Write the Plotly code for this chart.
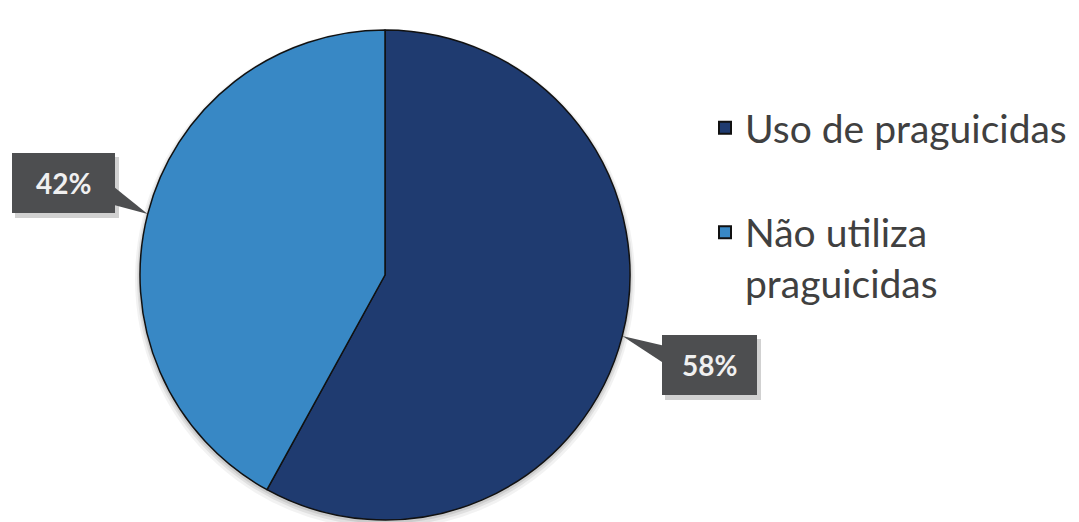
import math
import plotly.graph_objects as go

# Survey result: share of respondents using pesticides
labels = ["Uso de praguicidas", "Não utiliza<br>praguicidas"]
values = [58, 42]
colors = ["#1f3b70", "#3888c5"]

W, H = 1079, 522

# Pie geometry in pixels (centre and radius)
CX, CY, R = 385, 275, 245

# Callout boxes: centre, size and where the pointer leaves the box edge (fraction of height)
callouts = [
    dict(cx=709.5, cy=365, w=95, h=60, base=(0.17, 0.45)),
    dict(cx=63.5, cy=183, w=103, h=60, base=(0.58, 0.87)),
]


def px(x):
    return x / W


def py(y):
    return 1 - y / H


# single-line legend entries get a blank second line so the items are spaced apart
legend_text = [l if "<br>" in l else l + "<br> " for l in labels]

fig = go.Figure()
fig.add_trace(go.Pie(
    labels=legend_text,
    values=values,
    sort=False,
    direction="clockwise",
    rotation=0,
    marker=dict(colors=colors, line=dict(color="#111111", width=1.5)),
    textinfo="none",
    hoverinfo="percent",
    domain=dict(x=[px(CX - R), px(CX + R)], y=[py(CY + R), py(CY - R)]),
))

shapes = []
# faint shadow around the pie
for grow, dy, a in [(5, 4, 0.05), (3, 3, 0.07), (1.5, 2, 0.09)]:
    shapes.append(dict(type="circle", xref="paper", yref="paper", layer="below",
                       x0=px(CX - R - grow), x1=px(CX + R + grow),
                       y0=py(CY + R + grow + dy), y1=py(CY - R - grow + dy),
                       fillcolor=f"rgba(0,0,0,{a})", line=dict(width=0)))

annotations = []
total = sum(values)
cum = 0
for v, c in zip(values, callouts):
    mid = math.radians(90 - 360 * (cum + v / 2) / total)
    cum += v
    tx, ty = CX + R * math.cos(mid), CY - R * math.sin(mid)
    x0, x1 = c["cx"] - c["w"] / 2, c["cx"] + c["w"] / 2
    y0, y1 = c["cy"] - c["h"] / 2, c["cy"] + c["h"] / 2
    edge = x0 if tx < x0 else x1
    b0 = y0 + c["base"][0] * c["h"]
    b1 = y0 + c["base"][1] * c["h"]
    # soft drop shadow
    shapes.append(dict(type="rect", xref="paper", yref="paper",
                       x0=px(x0 + 3), x1=px(x1 + 4), y0=py(y1 + 5), y1=py(y0 + 4),
                       fillcolor="rgba(0,0,0,0.18)", line=dict(width=0)))
    shapes.append(dict(type="rect", xref="paper", yref="paper",
                       x0=px(x0), x1=px(x1), y0=py(y1), y1=py(y0),
                       fillcolor="#4d4e50", line=dict(width=0)))
    path = "M{:.5f},{:.5f} L{:.5f},{:.5f} L{:.5f},{:.5f} Z".format(
        px(edge), py(b0), px(tx), py(ty), px(edge), py(b1))
    shapes.append(dict(type="path", xref="paper", yref="paper", path=path,
                       fillcolor="#4d4e50", line=dict(width=0)))
    annotations.append(dict(
        x=px(c["cx"]), y=py(c["cy"]), xref="paper", yref="paper",
        text=f"<b>{round(v / total * 100)}%</b>", showarrow=False,
        font=dict(family="Lato", size=28, color="#f0f0f0"),
        xanchor="center", yanchor="middle",
    ))

fig.update_layout(
    width=W, height=H,
    margin=dict(l=0, r=0, t=0, b=0),
    paper_bgcolor="white",
    plot_bgcolor="white",
    shapes=shapes,
    annotations=annotations,
    showlegend=True,
    legend=dict(
        x=px(705), y=py(96), xanchor="left", yanchor="top",
        font=dict(family="Lato", size=39, color="#404040"),
        itemsizing="constant", valign="top",
        bgcolor="rgba(0,0,0,0)",
    ),
)

fig.write_html("out.html")
